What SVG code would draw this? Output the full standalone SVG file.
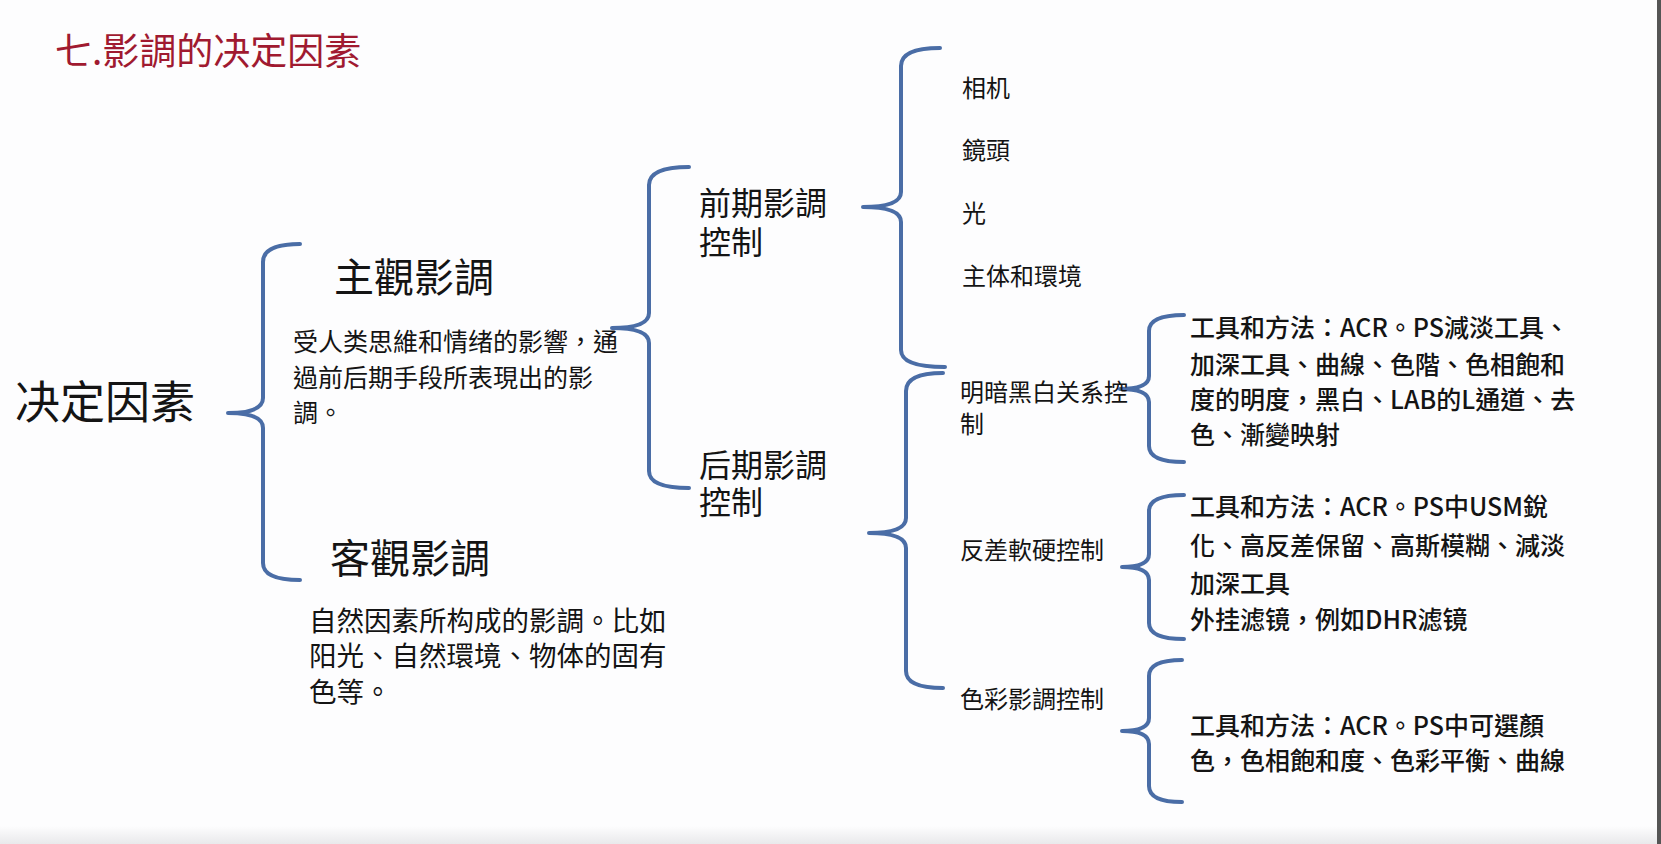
<svg xmlns="http://www.w3.org/2000/svg" width="1661" height="844" viewBox="0 0 1661 844">
<style>
.t{font-family:"Noto Sans CJK TC","Noto Sans CJK SC",sans-serif;fill:#141414}
.title{font-size:37px;fill:#a01a30}
.big{font-size:45px}
.h1{font-size:40px}
.h2{font-size:32px}
.d1{font-size:25px}
.d2{font-size:27.5px}
.s{font-size:24px}
.m{font-size:25px;font-weight:500}
.br{fill:none;stroke:#4a6da6;stroke-width:4;stroke-linecap:round;stroke-linejoin:round}
</style>
<defs>
<linearGradient id="bg" x1="0" y1="0" x2="0" y2="1">
<stop offset="0" stop-color="#fdfdfe"/>
<stop offset="1" stop-color="#e9e9eb"/>
</linearGradient>
</defs>
<rect width="1661" height="844" fill="#fdfdfe"/>
<rect x="0" y="826" width="1661" height="18" fill="url(#bg)"/>
<rect x="1657" y="0" width="4" height="844" fill="#555"/>

<g id="title"><text class="t title" x="55" y="65">七.影調的决定因素</text></g>

<g id="connectors">
<path class="br" d="M300,244 Q263,244 263,262 L263,398 Q263,413 228,413 Q263,413 263,428 L263,563 Q263,580 300,580"/>
<path class="br" d="M689,167 Q649,167 649,185 L649,313 Q649,328 612,328 Q649,328 649,343 L649,471 Q649,488 689,488"/>
<path class="br" d="M940,48 Q901,48 901,66 L901,192 Q901,207 863,207 Q901,207 901,222 L901,350 Q901,367 945,367"/>
<path class="br" d="M943,373 Q906,373 906,391 L906,518 Q906,533 869,533 Q906,533 906,548 L906,671 Q906,688 943,688"/>
<path class="br" d="M1184,315 Q1149,315 1149,331 L1149,376 Q1149,389 1120,389 Q1149,389 1149,402 L1149,446 Q1149,462 1184,462"/>
<path class="br" d="M1184,495 Q1149,495 1149,511 L1149,554 Q1149,567 1122,567 Q1149,567 1149,580 L1149,623 Q1149,639 1184,639"/>
<path class="br" d="M1182,660 Q1149,660 1149,676 L1149,718 Q1149,731 1122,731 Q1149,731 1149,744 L1149,786 Q1149,802 1182,802"/>
</g>

<g id="root"><text class="t big" x="15" y="419">决定因素</text></g>

<g id="subjective">
<text class="t h1" x="334" y="292">主觀影調</text>
<text class="t d1"><tspan x="293" y="351">受人类思維和情绪的影響，通</tspan><tspan x="293" y="387">過前后期手段所表現出的影</tspan><tspan x="293" y="422">調。</tspan></text>
</g>

<g id="objective">
<text class="t h1" x="330" y="573">客觀影調</text>
<text class="t d2"><tspan x="309" y="631">自然因素所构成的影調。比如</tspan><tspan x="309" y="666">阳光、自然環境、物体的固有</tspan><tspan x="309" y="702">色等。</tspan></text>
</g>

<g id="pre">
<text class="t h2"><tspan x="699" y="215">前期影調</tspan><tspan x="699" y="254">控制</tspan></text>
</g>

<g id="post">
<text class="t h2"><tspan x="699" y="477">后期影調</tspan><tspan x="699" y="514">控制</tspan></text>
</g>

<g id="pre-items">
<text class="t s" x="962" y="97">相机</text>
<text class="t s" x="962" y="159">鏡頭</text>
<text class="t s" x="962" y="222">光</text>
<text class="t s" x="962" y="285">主体和環境</text>
</g>

<g id="bw">
<text class="t s"><tspan x="960" y="401">明暗黑白关系控</tspan><tspan x="960" y="433">制</tspan></text>
</g>
<g id="bw-tools">
<text class="t m"><tspan x="1190" y="337">工具和方法：ACR。PS減淡工具、</tspan><tspan x="1190" y="374">加深工具、曲線、色階、色相飽和</tspan><tspan x="1190" y="409">度的明度，黑白、LAB的L通道、去</tspan><tspan x="1190" y="444">色、漸變映射</tspan></text>
</g>

<g id="contrast"><text class="t s" x="960" y="559">反差軟硬控制</text></g>
<g id="contrast-tools">
<text class="t m"><tspan x="1190" y="516">工具和方法：ACR。PS中USM銳</tspan><tspan x="1190" y="555">化、高反差保留、高斯模糊、減淡</tspan><tspan x="1190" y="593">加深工具</tspan><tspan x="1190" y="629">外挂滤镜，例如DHR滤镜</tspan></text>
</g>

<g id="color"><text class="t s" x="960" y="708">色彩影調控制</text></g>
<g id="color-tools">
<text class="t m"><tspan x="1190" y="735">工具和方法：ACR。PS中可選顏</tspan><tspan x="1190" y="770">色，色相飽和度、色彩平衡、曲線</tspan></text>
</g>
</svg>
